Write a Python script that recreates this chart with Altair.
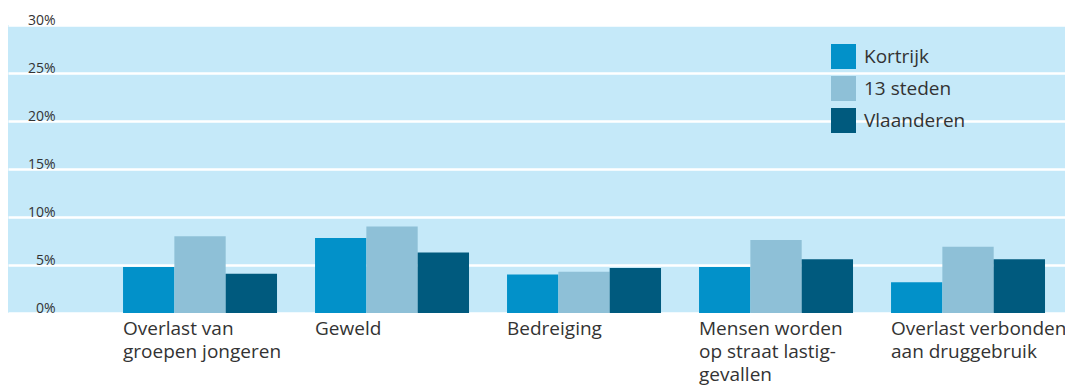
import altair as alt
import pandas as pd

categories = [
    "Overlast van|groepen jongeren",
    "Geweld",
    "Bedreiging",
    "Mensen worden|op straat lastig-|gevallen",
    "Overlast verbonden|aan druggebruik",
]
series = ["Kortrijk", "13 steden", "Vlaanderen"]
kortrijk = [4.8, 7.8, 4.0, 4.8, 3.2]
steden13 = [8.0, 9.0, 4.3, 7.6, 6.9]
vlaanderen = [4.1, 6.3, 4.7, 5.6, 5.6]
y_ticks = [0, 5, 10, 15, 20, 25, 30]
colors = ["#0291C9", "#8EC0D7", "#005A7E"]

rows = []
for vals, s in zip([kortrijk, steden13, vlaanderen], series):
    for c, v in zip(categories, vals):
        rows.append({"categorie": c, "reeks": s, "waarde": v})
df = pd.DataFrame(rows)

FONT = "Open Sans"
TXT = "#333333"

bars = alt.Chart(df).mark_bar(strokeWidth=0).encode(
    x=alt.X(
        "categorie:N",
        sort=categories,
        title=None,
        scale=alt.Scale(paddingInner=0.198, paddingOuter=0.3516, align=0.852),
        axis=alt.Axis(
            labelExpr="split(datum.label, '|')",
            labelAngle=0,
            labelAlign="left",
            labelBaseline="top",
            labelOffset=-77,
            labelPadding=6,
            labelLineHeight=23,
            labelFontSize=19,
            labelFont=FONT,
            labelColor=TXT,
            domain=False,
            ticks=False,
            grid=False,
            labelOverlap=False,
        ),
    ),
    xOffset=alt.XOffset("reeks:N", sort=series, scale=alt.Scale(paddingInner=0, paddingOuter=0)),
    y=alt.Y(
        "waarde:Q",
        title=None,
        scale=alt.Scale(domain=[0, 30], nice=False, zero=True),
        axis=alt.Axis(
            values=y_ticks,
            labelExpr="datum.value + '%'",
            labelAlign="right",
            labelBaseline="alphabetic",
            labelPadding=-47,
            labelOffset=-1,
            labelFontSize=14,
            labelFont=FONT,
            labelColor=TXT,
            domain=False,
            ticks=False,
            grid=True,
            gridColor="#FFFFFF",
            gridWidth=2.6,
            gridOpacity=1,
            labelOverlap=False,
            labelFlush=False,
        ),
    ),
    color=alt.Color(
        "reeks:N",
        sort=series,
        scale=alt.Scale(domain=series, range=colors),
        legend=alt.Legend(
            title=None,
            orient="none",
            legendX=823,
            legendY=19,
            symbolType="square",
            symbolSize=625,
            symbolStrokeWidth=0,
            symbolOpacity=1,
            labelFont=FONT,
            labelFontSize=19,
            labelColor=TXT,
            labelOffset=8,
            rowPadding=7,
            padding=0,
        ),
    ),
)

chart = bars.properties(
    width=1057,
    height=288,
    autosize=alt.AutoSizeParams(type="none"),
    padding={"left": 0, "top": 17, "right": 0, "bottom": 75},
    background="#FFFFFF",
).configure_view(fill="#C5E9F9", strokeWidth=0)

chart.save("out.html", embed_options={"renderer": "svg", "actions": False})
